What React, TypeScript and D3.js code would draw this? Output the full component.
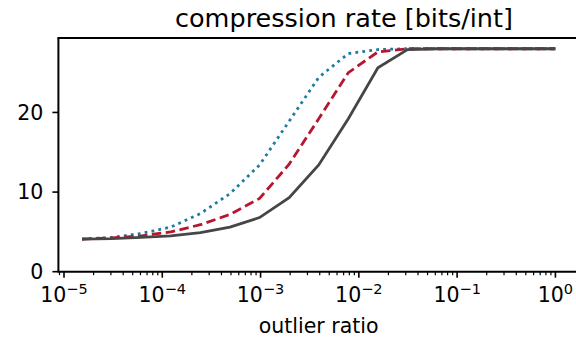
import React from "react";
import * as d3 from "d3";

const outlierRatios = [
  0.0000152588, 0.0000305176, 0.0000610352, 0.00012207, 0.000244141, 0.000488281,
  0.000976563, 0.00195313, 0.00390625, 0.0078125, 0.015625, 0.03125, 0.0625,
  0.125, 0.25, 0.5, 1,
];
const solidSeries = [4.1, 4.15, 4.3, 4.5, 4.9, 5.6, 6.8, 9.3, 13.4, 19.2, 25.6, 27.9, 28, 28, 28, 28, 28];
const dashedSeries = [4.1, 4.25, 4.5, 5.0, 5.9, 7.2, 9.2, 13.5, 19.2, 25.0, 27.6, 28, 28, 28, 28, 28, 28];
const dottedSeries = [4.1, 4.3, 4.8, 5.6, 7.3, 9.8, 13.4, 18.9, 24.4, 27.4, 27.9, 28, 28, 28, 28, 28, 28];
const xTickExps = [-5, -4, -3, -2, -1, 0];
const yTicks = [0, 10, 20];

const W = 576;
const H = 339;
const FONT = "DejaVu Sans";

export default function App() {
  const x = d3.scaleLog().domain([Math.pow(10, -5.057), Math.pow(10, 0.24)]).range([58.4, 579]);
  const y = d3.scaleLinear().domain([0, 29.35]).range([271.7, 38]);
  const line = d3
    .line<number>()
    .x((_, i) => x(outlierRatios[i]))
    .y((d) => y(d));

  const minor: number[] = [];
  for (let e = -6; e <= 0; e++) {
    for (let m = 2; m <= 9; m++) {
      const v = m * Math.pow(10, e);
      const px = x(v);
      if (px >= 58.4 && px <= 579) minor.push(v);
    }
  }

  const bottom = y(0);
  const left = 58.4;
  const top = y(29.35);

  return (
    <svg width={W} height={H} style={{ position: "absolute", left: 0, top: 0 }} fontFamily={FONT}>
      <rect width={W} height={H} fill="white" />
      <defs>
        <clipPath id="plot">
          <rect x={left} y={top} width={579 - left} height={bottom - top} />
        </clipPath>
      </defs>
      <g clipPath="url(#plot)" fill="none" strokeWidth={2.8}>
        <path d={line(dottedSeries) || ""} stroke="#1f7aa0" strokeDasharray="2.8 4.2" strokeLinecap="butt" />
        <path d={line(dashedSeries) || ""} stroke="#b8162e" strokeDasharray="9.5 4.5" />
        <path d={line(solidSeries) || ""} stroke="#464646" />
      </g>
      {/* spines */}
      <line x1={left} x2={left} y1={top} y2={bottom} stroke="black" strokeWidth={2} />
      <line x1={left - 1} x2={580} y1={bottom} y2={bottom} stroke="black" strokeWidth={2} />
      <line x1={left - 1} x2={580} y1={top} y2={top} stroke="black" strokeWidth={2} />
      {/* y ticks */}
      {yTicks.map((t) => (
        <g key={t}>
          <line x1={left - 6} x2={left} y1={y(t)} y2={y(t)} stroke="black" strokeWidth={1.6} />
          <text x={left - 15} y={y(t)} dy="0.36em" textAnchor="end" fontSize={20.5} fill="#000">
            {t}
          </text>
        </g>
      ))}
      {/* x minor ticks */}
      {minor.map((v, i) => (
        <line key={i} x1={x(v)} x2={x(v)} y1={bottom} y2={bottom + 3.5} stroke="black" strokeWidth={1.2} />
      ))}
      {/* x major ticks */}
      {xTickExps.map((e) => {
        const px = x(Math.pow(10, e));
        return (
          <g key={e}>
            <line x1={px} x2={px} y1={bottom} y2={bottom + 6} stroke="black" strokeWidth={1.6} />
            <text x={px} y={302} textAnchor="middle" fontSize={20.5} fill="#000">
              10
              <tspan dy={-8} fontSize={14.5}>
                {e === 0 ? "0" : "\u2212" + Math.abs(e)}
              </tspan>
            </text>
          </g>
        );
      })}
      <text x={318.7} y={333} textAnchor="middle" fontSize={20.5} fill="#000">
        outlier ratio
      </text>
      <text x={344} y={27} textAnchor="middle" fontSize={25.5} fill="#000">
        compression rate [bits/int]
      </text>
    </svg>
  );
}
